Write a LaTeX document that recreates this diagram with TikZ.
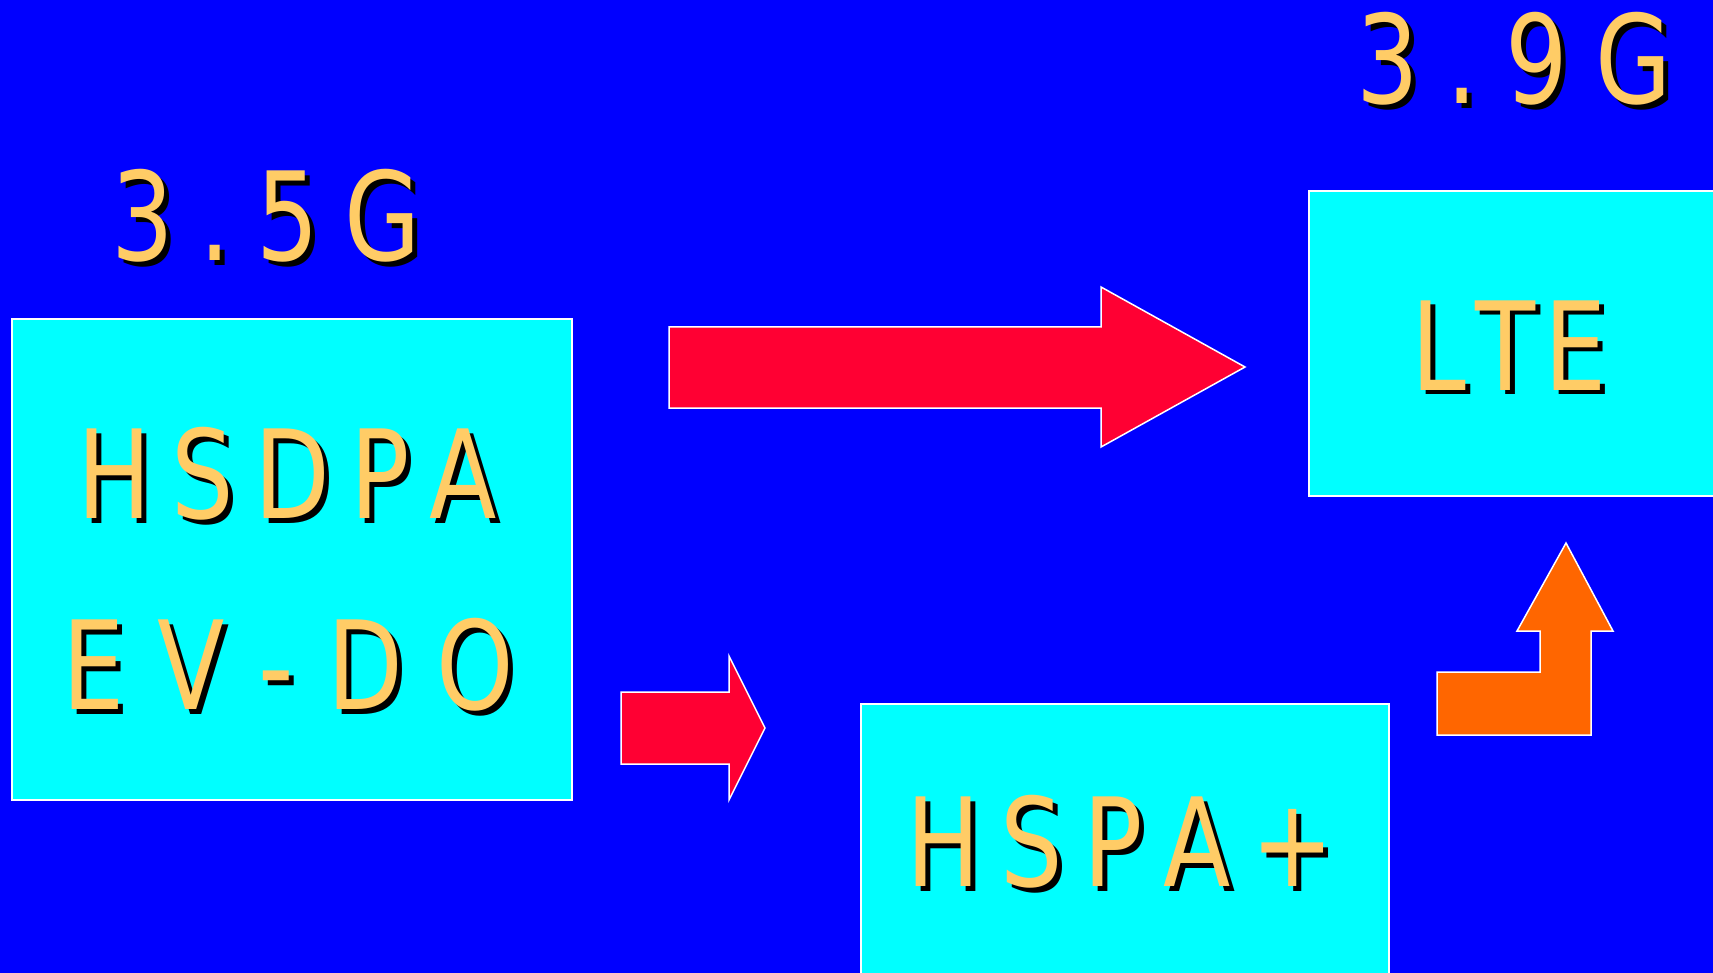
\documentclass[tikz,border=0pt]{standalone}
\usepackage{fontspec}
\newfontfamily\dvs[FakeStretch=0.8]{DejaVu Sans}
\definecolor{bg}{HTML}{0000FF}
\definecolor{boxc}{HTML}{00FFFF}
\definecolor{gold}{HTML}{FFCC66}
\definecolor{redar}{HTML}{FF0033}
\definecolor{orar}{HTML}{FF6600}
\tikzset{
  lbl/.style={font=\dvs\fontsize{123}{128}\selectfont, inner sep=0pt, anchor=base, text=gold},
  boxst/.style={draw=white, line width=1.5pt, fill=boxc, inner sep=0pt},
  arrred/.style={draw=white, line width=1.5pt, fill=redar, line join=miter},
  arror/.style={draw=white, line width=1.5pt, fill=orar, line join=miter}
}
\newcommand{\shlabel}[4]{%
  \node[lbl, text=black] (#1s) at (#2+5,#3+5) {#4};
  \node[lbl] (#1) at (#2,#3) {#4};}
\begin{document}
\begin{tikzpicture}[x=1pt,y=-1pt]
\useasboundingbox (0,0) rectangle (1713,973);
\clip (0,0) rectangle (1713,973);
\fill[bg] (0,0) rectangle (1713,973);
% boxes
\node[boxst, minimum width=560pt, minimum height=481pt] (lbox) at (292,559.5) {};
\node[boxst, minimum width=421pt, minimum height=305pt] (ltebox) at (1519.5,343.5) {};
\node[boxst, minimum width=528pt, minimum height=286pt] (hspabox) at (1125,847) {};
% arrows
\draw[arrred] (669,327) -- (1101,327) -- (1101,287) -- (1245,367) -- (1101,447) -- (1101,408) -- (669,408) -- cycle;
\draw[arrred] (621,692) -- (729,692) -- (729,656) -- (765,728) -- (729,800) -- (729,764) -- (621,764) -- cycle;
\draw[arror] (1437,672) -- (1540,672) -- (1540,631) -- (1517,631) -- (1566,543) -- (1613,631) -- (1591,631) -- (1591,735) -- (1437,735) -- cycle;
% labels
\shlabel{g35}{266}{261}{\hbox to 310pt{3\hfil.\hfil 5\hfil G}}
\shlabel{g39}{1514}{104}{\hbox to 315pt{3\hfil.\hfil 9\hfil G}}
\shlabel{hsdpa}{287}{518}{\hbox to 420pt{H\hfil S\hfil D\hfil P\hfil A}}
\shlabel{evdo}{288}{709}{\hbox to 452pt{E\hfil V\hfil -\hfil D\hfil O}}
\shlabel{lte}{1509}{390}{\hbox to 196pt{L\hfil T\hfil E}}
\shlabel{hspa}{1120}{886}{\hbox to 427pt{H\hfil S\hfil P\hfil A\hfil +}}
\end{tikzpicture}
\end{document}
